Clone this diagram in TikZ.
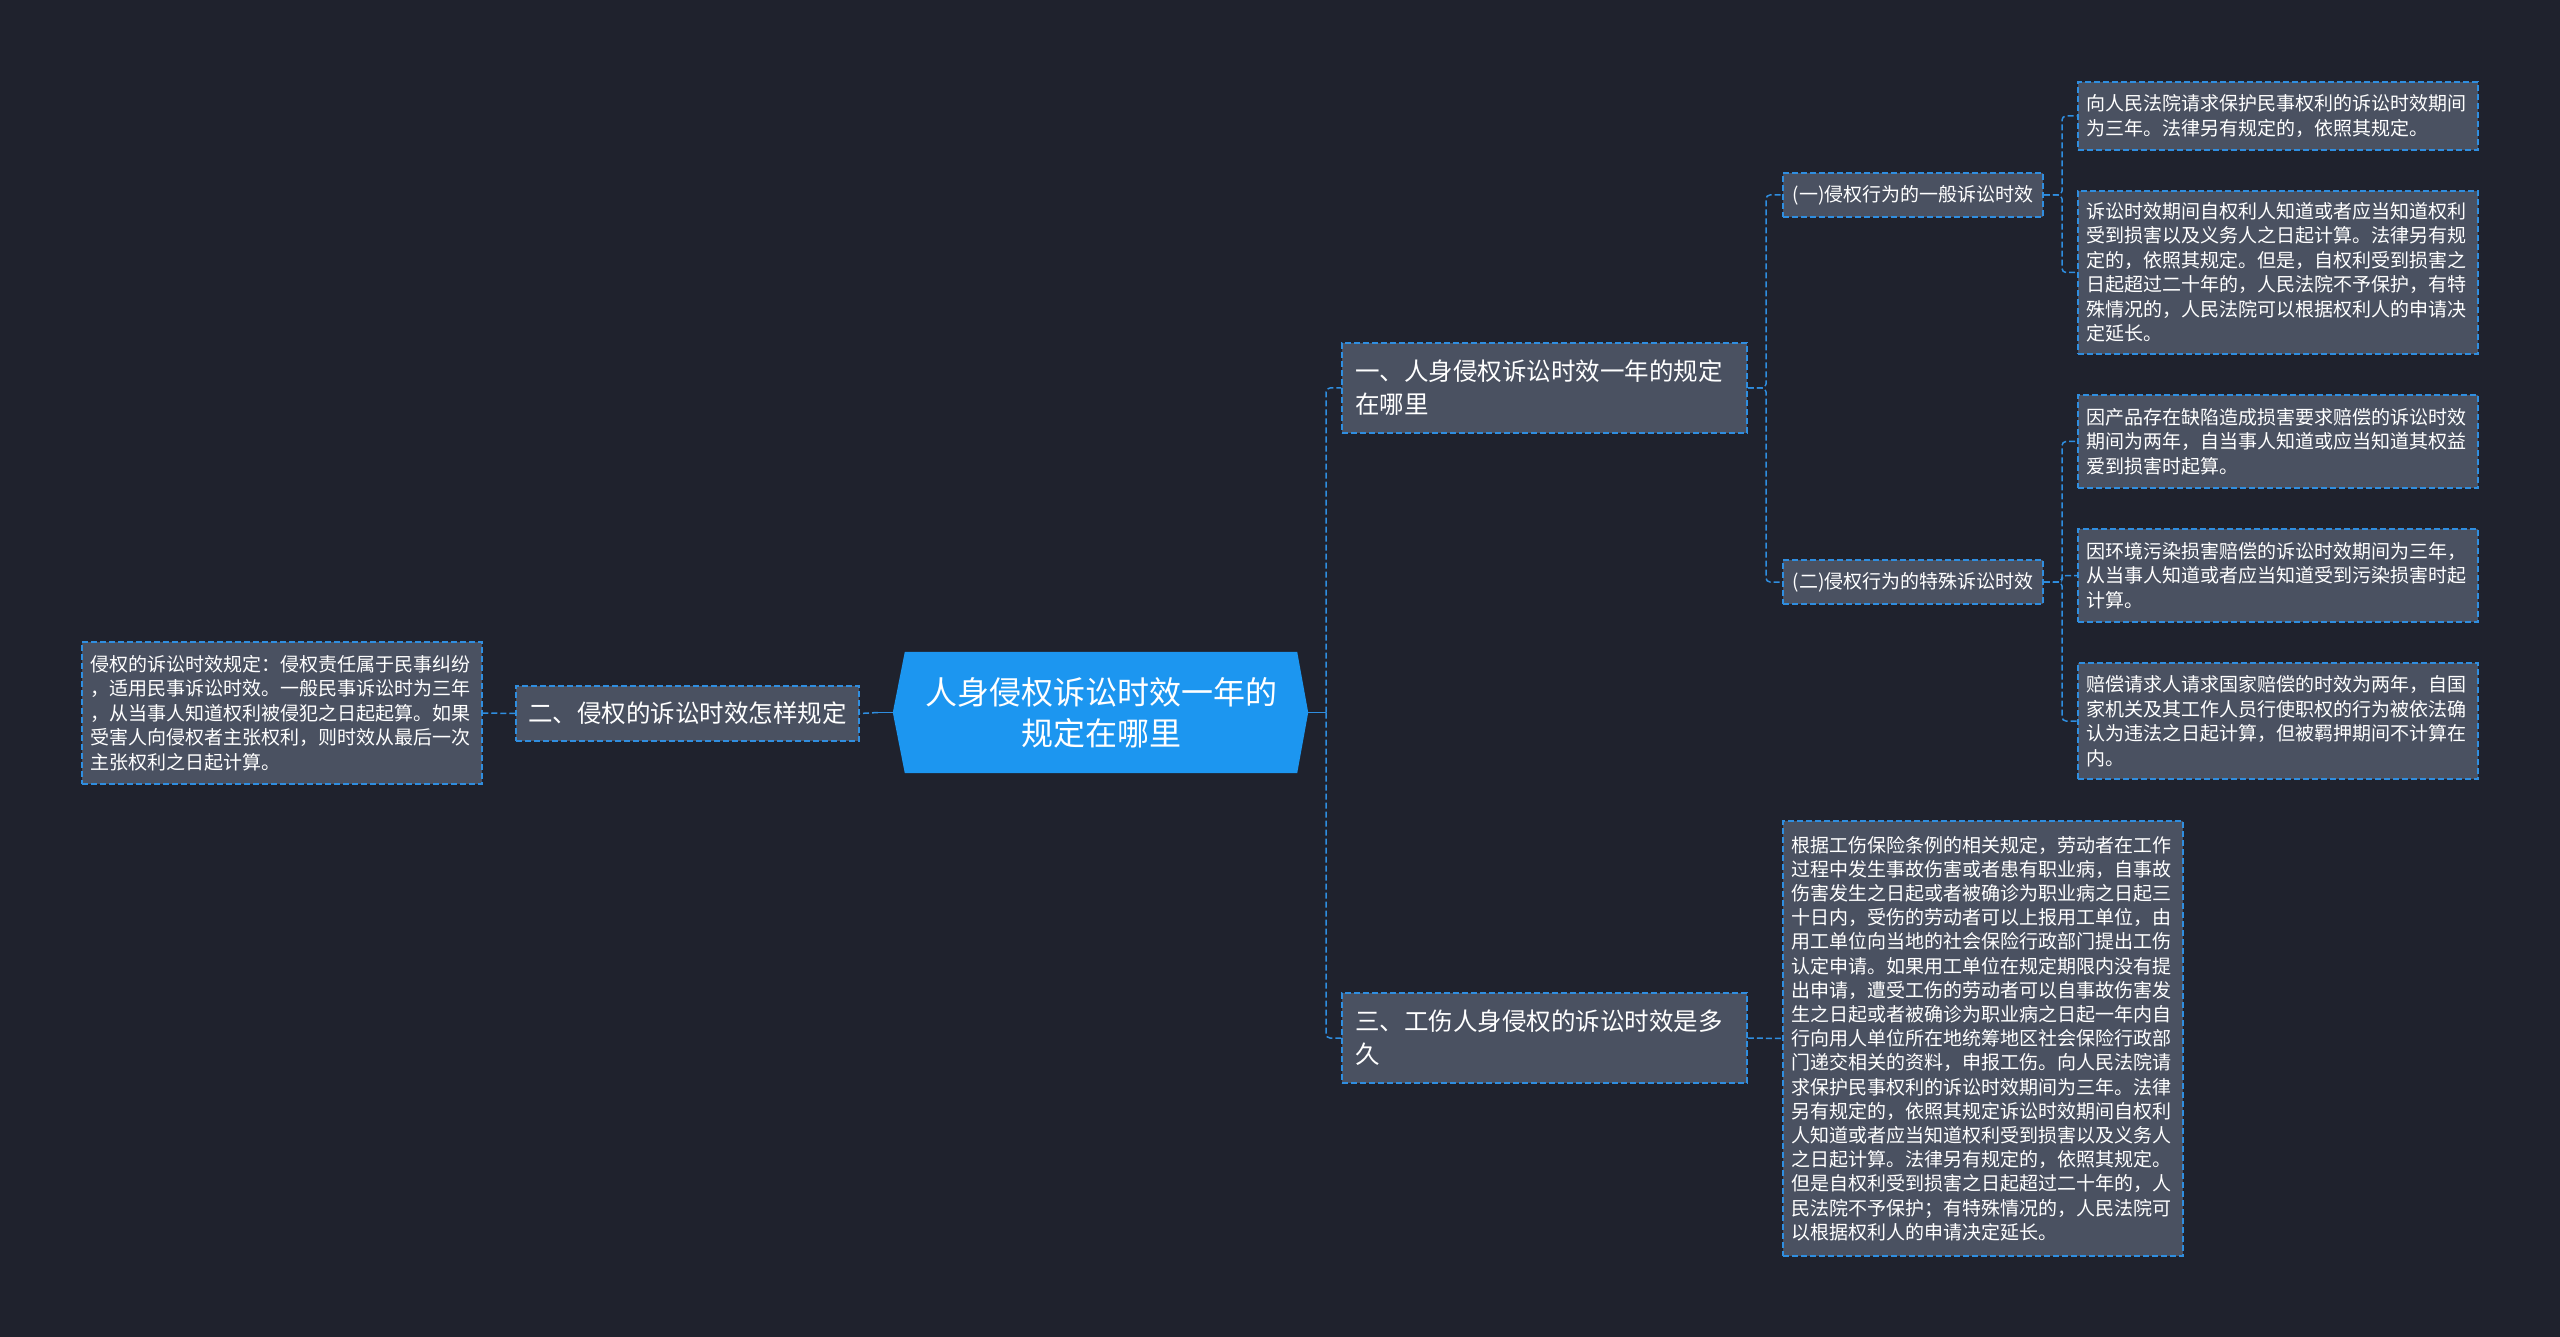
\documentclass[tikz,border=0pt]{standalone}
\usepackage{fontspec}
\setmainfont{Noto Sans CJK SC}
\usetikzlibrary{backgrounds}
\definecolor{bgc}{HTML}{1F222D}
\definecolor{nodefill}{HTML}{4A5161}
\definecolor{edgec}{HTML}{2F8EE0}
\definecolor{rootfill}{HTML}{1C96F0}
\begin{document}
\begin{tikzpicture}[x=1pt,y=-1pt,
  box/.style={draw=edgec, fill=nodefill, line width=1.5pt, dash pattern=on 6pt off 3pt, text=white, inner xsep=0pt, inner ysep=0pt},
  leaf/.style={box, font=\fontsize{19}{24.5}\selectfont, minimum width=400pt, text width=384pt, align=left},
  mid/.style={box, font=\fontsize{24.5}{33}\selectfont, align=left},
  sub/.style={box, font=\fontsize{19}{24}\selectfont, minimum width=260pt, minimum height=44pt, align=center},
  conn/.style={draw=edgec, line width=1.5pt, dash pattern=on 6pt off 3pt, rounded corners=4pt},
  solidc/.style={draw=edgec, line width=1.5pt}
]
\useasboundingbox (0,0) rectangle (2560,1337);
\begin{scope}[on background layer]
\fill[bgc] (0,0) rectangle (2560,1337);
\end{scope}

% root
\node[text=white, font=\fontsize{32}{41}\selectfont, align=center, minimum width=392pt, minimum height=121pt, inner sep=0pt] (root) at (1101,712.5) {人身侵权诉讼时效一年的\\规定在哪里};
\coordinate (rootR) at ([xshift=11pt]root.east);
\coordinate (rootL) at ([xshift=-12pt]root.west);
\begin{scope}[on background layer]
\fill[rootfill] (root.north west) -- (root.north east) -- (rootR) -- (root.south east) -- (root.south west) -- (rootL) -- cycle;
\end{scope}

% level 1
\node[mid, minimum width=405pt, minimum height=90pt, text width=379pt] (n1) at (1544.5,388) {一、人身侵权诉讼时效一年的规定\\在哪里};
\node[mid, minimum width=405pt, minimum height=90pt, text width=379pt] (n3) at (1544.5,1038) {三、工伤人身侵权的诉讼时效是多\\久};
\node[mid, minimum width=343pt, minimum height=55pt, align=center] (n2) at (687.5,713.5) {二、侵权的诉讼时效怎样规定};

% level 2
\node[sub] (p1) at (1913,195) {(一)侵权行为的一般诉讼时效};
\node[sub] (p2) at (1913,582) {(二)侵权行为的特殊诉讼时效};

% leaves
\node[leaf, minimum height=68pt] (a1) at (2278,116) {向人民法院请求保护民事权利的诉讼时效期间\\为三年。法律另有规定的，依照其规定。};
\node[leaf, minimum height=163pt] (a2) at (2278,272.5) {诉讼时效期间自权利人知道或者应当知道权利\\受到损害以及义务人之日起计算。法律另有规\\定的，依照其规定。但是，自权利受到损害之\\日起超过二十年的，人民法院不予保护，有特\\殊情况的，人民法院可以根据权利人的申请决\\定延长。};
\node[leaf, minimum height=93pt] (b1) at (2278,441.5) {因产品存在缺陷造成损害要求赔偿的诉讼时效\\期间为两年，自当事人知道或应当知道其权益\\爱到损害时起算。};
\node[leaf, minimum height=93pt] (b2) at (2278,575.5) {因环境污染损害赔偿的诉讼时效期间为三年，\\从当事人知道或者应当知道受到污染损害时起\\计算。};
\node[leaf, minimum height=116pt] (b3) at (2278,721) {赔偿请求人请求国家赔偿的时效为两年，自国\\家机关及其工作人员行使职权的行为被依法确\\认为违法之日起计算，但被羁押期间不计算在\\内。};
\node[leaf, minimum height=435pt, font=\fontsize{19}{24.2}\selectfont] (c) at (1983,1038.5) {根据工伤保险条例的相关规定，劳动者在工作\\过程中发生事故伤害或者患有职业病，自事故\\伤害发生之日起或者被确诊为职业病之日起三\\十日内，受伤的劳动者可以上报用工单位，由\\用工单位向当地的社会保险行政部门提出工伤\\认定申请。如果用工单位在规定期限内没有提\\出申请，遭受工伤的劳动者可以自事故伤害发\\生之日起或者被确诊为职业病之日起一年内自\\行向用人单位所在地统筹地区社会保险行政部\\门递交相关的资料，申报工伤。向人民法院请\\求保护民事权利的诉讼时效期间为三年。法律\\另有规定的，依照其规定诉讼时效期间自权利\\人知道或者应当知道权利受到损害以及义务人\\之日起计算。法律另有规定的，依照其规定。\\但是自权利受到损害之日起超过二十年的，人\\民法院不予保护；有特殊情况的，人民法院可\\以根据权利人的申请决定延长。};
\node[leaf, minimum height=142pt] (L0) at (282,713) {侵权的诉讼时效规定：侵权责任属于民事纠纷\\，适用民事诉讼时效。一般民事诉讼时为三年\\，从当事人知道权利被侵犯之日起起算。如果\\受害人向侵权者主张权利，则时效从最后一次\\主张权利之日起计算。};

% connectors
\coordinate (sR) at (1326,712.5);
\draw[solidc] (rootR) -- (sR);
\draw[conn] (sR) |- (n1.west);
\draw[conn] (sR) |- (n3.west);

\coordinate (sL) at (878,712.5);
\draw[solidc] (rootL) -- (sL);
\draw[conn] (sL) -- (n2.east);
\draw[conn] (n2.west) -- (L0.east);

\coordinate (s1) at (1766,388);
\draw[conn] (n1.east) -- (s1) |- (p1.west);
\draw[conn] (n1.east) -- (s1) |- (p2.west);

\coordinate (s2) at (2062,195);
\draw[conn] (p1.east) -- (s2) |- (a1.west);
\draw[conn] (p1.east) -- (s2) |- (a2.west);

\coordinate (s3) at (2062,582);
\draw[conn] (p2.east) -- (s3) |- (b1.west);
\draw[conn] (p2.east) -- (s3) |- (b2.west);
\draw[conn] (p2.east) -- (s3) |- (b3.west);

\draw[conn] (n3.east) -- (c.west);
\end{tikzpicture}
\end{document}
